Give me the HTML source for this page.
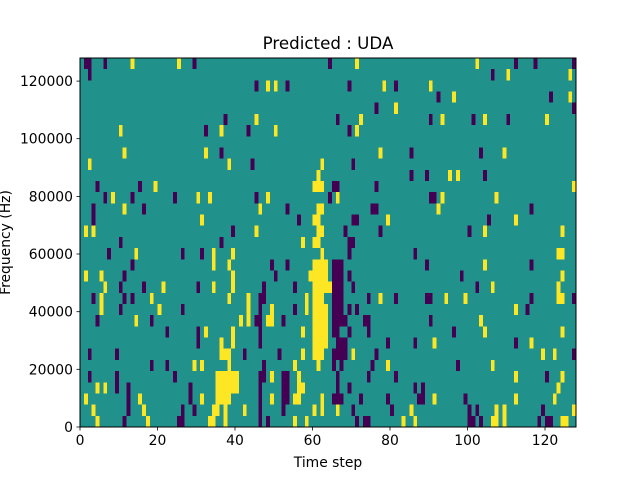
<!DOCTYPE html>
<html><head><meta charset="utf-8"><style>
html,body{margin:0;padding:0;background:#fff;}
svg{display:block;}
text{font-family:"DejaVu Sans","Liberation Sans",sans-serif;font-size:13.9px;fill:#000;}
</style></head><body>
<svg width="640" height="480" viewBox="0 0 640 480" xmlns="http://www.w3.org/2000/svg">
<rect x="0" y="0" width="640" height="480" fill="#fff"/>
<rect x="80" y="58" width="496" height="369" fill="#21918c"/>
<g transform="translate(80,58) scale(3.875,11.1818)" shape-rendering="crispEdges">
<g fill="#440154">
<rect x="1" y="0" width="2" height="1"/><rect x="6" y="0" width="1" height="1"/><rect x="29" y="0" width="1" height="1"/><rect x="64" y="0" width="1" height="1"/><rect x="112" y="0" width="1" height="1"/><rect x="117" y="0" width="1" height="1"/><rect x="127" y="0" width="1" height="1"/>
<rect x="2" y="1" width="1" height="1"/><rect x="106" y="1" width="1" height="1"/>
<rect x="45" y="2" width="1" height="1"/><rect x="53" y="2" width="1" height="1"/><rect x="69" y="2" width="1" height="1"/><rect x="81" y="2" width="1" height="1"/>
<rect x="92" y="3" width="1" height="1"/><rect x="121" y="3" width="1" height="1"/>
<rect x="76" y="4" width="1" height="1"/><rect x="127" y="4" width="1" height="1"/>
<rect x="37" y="5" width="1" height="1"/><rect x="66" y="5" width="1" height="1"/><rect x="90" y="5" width="1" height="1"/><rect x="101" y="5" width="1" height="1"/><rect x="110" y="5" width="1" height="1"/>
<rect x="32" y="6" width="1" height="1"/><rect x="43" y="6" width="1" height="1"/><rect x="69" y="6" width="1" height="1"/>
<rect x="36" y="8" width="1" height="1"/><rect x="85" y="8" width="1" height="1"/><rect x="103" y="8" width="1" height="1"/>
<rect x="44" y="9" width="1" height="1"/><rect x="70" y="9" width="1" height="1"/>
<rect x="85" y="10" width="1" height="1"/><rect x="89" y="10" width="1" height="1"/><rect x="104" y="10" width="1" height="1"/>
<rect x="4" y="11" width="1" height="1"/><rect x="15" y="11" width="1" height="1"/><rect x="65" y="11" width="2" height="1"/><rect x="76" y="11" width="1" height="1"/>
<rect x="6" y="12" width="1" height="1"/><rect x="13" y="12" width="1" height="1"/><rect x="24" y="12" width="1" height="1"/><rect x="45" y="12" width="1" height="1"/><rect x="64" y="12" width="1" height="1"/><rect x="90" y="12" width="2" height="1"/>
<rect x="3" y="13" width="1" height="1"/><rect x="16" y="13" width="1" height="1"/><rect x="53" y="13" width="1" height="1"/><rect x="75" y="13" width="2" height="1"/><rect x="116" y="13" width="1" height="1"/>
<rect x="3" y="14" width="1" height="1"/><rect x="56" y="14" width="1" height="1"/><rect x="70" y="14" width="2" height="1"/><rect x="105" y="14" width="1" height="1"/>
<rect x="39" y="15" width="1" height="1"/><rect x="68" y="15" width="1" height="1"/><rect x="77" y="15" width="1" height="1"/><rect x="100" y="15" width="1" height="1"/>
<rect x="10" y="16" width="1" height="1"/><rect x="36" y="16" width="1" height="1"/><rect x="69" y="16" width="2" height="1"/>
<rect x="7" y="17" width="1" height="1"/><rect x="26" y="17" width="1" height="1"/><rect x="31" y="17" width="1" height="1"/><rect x="69" y="17" width="1" height="1"/><rect x="86" y="17" width="1" height="1"/>
<rect x="13" y="18" width="1" height="1"/><rect x="49" y="18" width="1" height="1"/><rect x="53" y="18" width="1" height="1"/><rect x="65" y="18" width="3" height="1"/><rect x="89" y="18" width="1" height="1"/><rect x="116" y="18" width="1" height="1"/>
<rect x="11" y="19" width="1" height="1"/><rect x="50" y="19" width="1" height="1"/><rect x="65" y="19" width="3" height="1"/><rect x="69" y="19" width="1" height="1"/><rect x="98" y="19" width="1" height="1"/>
<rect x="10" y="20" width="1" height="1"/><rect x="16" y="20" width="1" height="1"/><rect x="30" y="20" width="1" height="1"/><rect x="47" y="20" width="1" height="1"/><rect x="55" y="20" width="1" height="1"/><rect x="65" y="20" width="3" height="1"/><rect x="70" y="20" width="1" height="1"/><rect x="102" y="20" width="1" height="1"/>
<rect x="3" y="21" width="1" height="1"/><rect x="11" y="21" width="1" height="1"/><rect x="13" y="21" width="1" height="1"/><rect x="46" y="21" width="2" height="1"/><rect x="65" y="21" width="3" height="1"/><rect x="74" y="21" width="1" height="1"/><rect x="81" y="21" width="1" height="1"/><rect x="89" y="21" width="2" height="1"/><rect x="116" y="21" width="1" height="1"/><rect x="127" y="21" width="1" height="1"/>
<rect x="10" y="22" width="1" height="1"/><rect x="26" y="22" width="1" height="1"/><rect x="46" y="22" width="1" height="1"/><rect x="55" y="22" width="1" height="1"/><rect x="65" y="22" width="3" height="1"/><rect x="69" y="22" width="1" height="1"/><rect x="71" y="22" width="1" height="1"/><rect x="115" y="22" width="1" height="1"/>
<rect x="4" y="23" width="1" height="1"/><rect x="18" y="23" width="1" height="1"/><rect x="45" y="23" width="2" height="1"/><rect x="52" y="23" width="1" height="1"/><rect x="65" y="23" width="4" height="1"/><rect x="73" y="23" width="2" height="1"/><rect x="90" y="23" width="1" height="1"/>
<rect x="22" y="24" width="1" height="1"/><rect x="30" y="24" width="1" height="1"/><rect x="46" y="24" width="1" height="1"/><rect x="65" y="24" width="2" height="1"/><rect x="69" y="24" width="1" height="1"/><rect x="74" y="24" width="1" height="1"/><rect x="96" y="24" width="1" height="1"/>
<rect x="30" y="25" width="1" height="1"/><rect x="46" y="25" width="1" height="1"/><rect x="66" y="25" width="3" height="1"/><rect x="79" y="25" width="1" height="1"/><rect x="86" y="25" width="1" height="1"/><rect x="112" y="25" width="1" height="1"/>
<rect x="2" y="26" width="1" height="1"/><rect x="9" y="26" width="1" height="1"/><rect x="42" y="26" width="1" height="1"/><rect x="51" y="26" width="1" height="1"/><rect x="65" y="26" width="4" height="1"/><rect x="76" y="26" width="1" height="1"/><rect x="127" y="26" width="1" height="1"/>
<rect x="18" y="27" width="1" height="1"/><rect x="22" y="27" width="1" height="1"/><rect x="47" y="27" width="1" height="1"/><rect x="65" y="27" width="1" height="1"/><rect x="67" y="27" width="1" height="1"/><rect x="75" y="27" width="1" height="1"/><rect x="97" y="27" width="1" height="1"/>
<rect x="2" y="28" width="1" height="1"/><rect x="9" y="28" width="1" height="1"/><rect x="24" y="28" width="1" height="1"/><rect x="46" y="28" width="2" height="1"/><rect x="52" y="28" width="2" height="1"/><rect x="66" y="28" width="1" height="1"/><rect x="74" y="28" width="1" height="1"/><rect x="81" y="28" width="1" height="1"/><rect x="120" y="28" width="1" height="1"/>
<rect x="9" y="29" width="1" height="1"/><rect x="12" y="29" width="1" height="1"/><rect x="28" y="29" width="1" height="1"/><rect x="46" y="29" width="1" height="1"/><rect x="52" y="29" width="2" height="1"/><rect x="66" y="29" width="1" height="1"/><rect x="69" y="29" width="1" height="1"/><rect x="86" y="29" width="1" height="1"/><rect x="88" y="29" width="1" height="1"/>
<rect x="12" y="30" width="1" height="1"/><rect x="28" y="30" width="1" height="1"/><rect x="46" y="30" width="1" height="1"/><rect x="52" y="30" width="2" height="1"/><rect x="65" y="30" width="3" height="1"/><rect x="72" y="30" width="1" height="1"/><rect x="79" y="30" width="1" height="1"/><rect x="87" y="30" width="2" height="1"/><rect x="99" y="30" width="1" height="1"/>
<rect x="12" y="31" width="1" height="1"/><rect x="26" y="31" width="1" height="1"/><rect x="29" y="31" width="1" height="1"/><rect x="46" y="31" width="1" height="1"/><rect x="52" y="31" width="1" height="1"/><rect x="70" y="31" width="1" height="1"/><rect x="80" y="31" width="1" height="1"/><rect x="100" y="31" width="1" height="1"/><rect x="102" y="31" width="1" height="1"/><rect x="119" y="31" width="1" height="1"/>
<rect x="11" y="32" width="1" height="1"/><rect x="25" y="32" width="2" height="1"/><rect x="46" y="32" width="1" height="1"/><rect x="48" y="32" width="1" height="1"/><rect x="71" y="32" width="1" height="1"/><rect x="73" y="32" width="2" height="1"/><rect x="100" y="32" width="2" height="1"/><rect x="103" y="32" width="1" height="1"/><rect x="118" y="32" width="1" height="1"/><rect x="120" y="32" width="2" height="1"/>
</g>
<g fill="#fde725">
<rect x="13" y="0" width="1" height="1"/><rect x="25" y="0" width="1" height="1"/><rect x="71" y="0" width="1" height="1"/><rect x="102" y="0" width="1" height="1"/>
<rect x="110" y="1" width="1" height="1"/><rect x="126" y="1" width="1" height="1"/>
<rect x="48" y="2" width="1" height="1"/><rect x="50" y="2" width="1" height="1"/><rect x="78" y="2" width="1" height="1"/><rect x="90" y="2" width="1" height="1"/>
<rect x="96" y="3" width="1" height="1"/><rect x="126" y="3" width="1" height="1"/>
<rect x="81" y="4" width="1" height="1"/>
<rect x="45" y="5" width="1" height="1"/><rect x="72" y="5" width="1" height="1"/><rect x="93" y="5" width="1" height="1"/><rect x="104" y="5" width="1" height="1"/><rect x="120" y="5" width="1" height="1"/>
<rect x="10" y="6" width="1" height="1"/><rect x="36" y="6" width="1" height="1"/><rect x="50" y="6" width="1" height="1"/><rect x="71" y="6" width="1" height="1"/>
<rect x="11" y="8" width="1" height="1"/><rect x="32" y="8" width="1" height="1"/><rect x="77" y="8" width="1" height="1"/><rect x="109" y="8" width="1" height="1"/>
<rect x="2" y="9" width="1" height="1"/><rect x="38" y="9" width="1" height="1"/><rect x="62" y="9" width="1" height="1"/>
<rect x="61" y="10" width="1" height="1"/><rect x="95" y="10" width="1" height="1"/><rect x="97" y="10" width="1" height="1"/>
<rect x="19" y="11" width="1" height="1"/><rect x="60" y="11" width="3" height="1"/><rect x="127" y="11" width="1" height="1"/>
<rect x="8" y="12" width="1" height="1"/><rect x="30" y="12" width="1" height="1"/><rect x="33" y="12" width="1" height="1"/><rect x="48" y="12" width="1" height="1"/><rect x="66" y="12" width="1" height="1"/><rect x="93" y="12" width="1" height="1"/><rect x="107" y="12" width="1" height="1"/>
<rect x="11" y="13" width="1" height="1"/><rect x="46" y="13" width="1" height="1"/><rect x="61" y="13" width="2" height="1"/><rect x="92" y="13" width="1" height="1"/>
<rect x="31" y="14" width="1" height="1"/><rect x="60" y="14" width="2" height="1"/><rect x="79" y="14" width="1" height="1"/><rect x="112" y="14" width="1" height="1"/>
<rect x="1" y="15" width="1" height="1"/><rect x="3" y="15" width="1" height="1"/><rect x="45" y="15" width="1" height="1"/><rect x="61" y="15" width="2" height="1"/><rect x="104" y="15" width="1" height="1"/><rect x="124" y="15" width="1" height="1"/>
<rect x="57" y="16" width="1" height="1"/><rect x="60" y="16" width="2" height="1"/>
<rect x="14" y="17" width="1" height="1"/><rect x="34" y="17" width="1" height="1"/><rect x="39" y="17" width="1" height="1"/><rect x="62" y="17" width="1" height="1"/><rect x="123" y="17" width="2" height="1"/>
<rect x="34" y="18" width="1" height="1"/><rect x="38" y="18" width="1" height="1"/><rect x="60" y="18" width="4" height="1"/><rect x="104" y="18" width="1" height="1"/>
<rect x="1" y="19" width="1" height="1"/><rect x="5" y="19" width="1" height="1"/><rect x="39" y="19" width="1" height="1"/><rect x="59" y="19" width="5" height="1"/><rect x="124" y="19" width="1" height="1"/>
<rect x="6" y="20" width="1" height="1"/><rect x="21" y="20" width="1" height="1"/><rect x="34" y="20" width="1" height="1"/><rect x="39" y="20" width="1" height="1"/><rect x="60" y="20" width="5" height="1"/><rect x="106" y="20" width="1" height="1"/><rect x="123" y="20" width="1" height="1"/>
<rect x="5" y="21" width="1" height="1"/><rect x="18" y="21" width="1" height="1"/><rect x="38" y="21" width="1" height="1"/><rect x="43" y="21" width="1" height="1"/><rect x="58" y="21" width="1" height="1"/><rect x="60" y="21" width="3" height="1"/><rect x="77" y="21" width="1" height="1"/><rect x="94" y="21" width="1" height="1"/><rect x="99" y="21" width="1" height="1"/><rect x="123" y="21" width="2" height="1"/>
<rect x="5" y="22" width="1" height="1"/><rect x="20" y="22" width="1" height="1"/><rect x="43" y="22" width="1" height="1"/><rect x="49" y="22" width="1" height="1"/><rect x="58" y="22" width="1" height="1"/><rect x="60" y="22" width="4" height="1"/><rect x="112" y="22" width="1" height="1"/>
<rect x="14" y="23" width="1" height="1"/><rect x="41" y="23" width="1" height="1"/><rect x="43" y="23" width="1" height="1"/><rect x="48" y="23" width="2" height="1"/><rect x="60" y="23" width="4" height="1"/><rect x="103" y="23" width="1" height="1"/>
<rect x="32" y="24" width="1" height="1"/><rect x="39" y="24" width="1" height="1"/><rect x="57" y="24" width="1" height="1"/><rect x="60" y="24" width="4" height="1"/><rect x="104" y="24" width="1" height="1"/><rect x="124" y="24" width="1" height="1"/>
<rect x="36" y="25" width="1" height="1"/><rect x="39" y="25" width="1" height="1"/><rect x="60" y="25" width="4" height="1"/><rect x="91" y="25" width="1" height="1"/><rect x="116" y="25" width="1" height="1"/>
<rect x="36" y="26" width="3" height="1"/><rect x="57" y="26" width="1" height="1"/><rect x="60" y="26" width="3" height="1"/><rect x="70" y="26" width="1" height="1"/><rect x="119" y="26" width="1" height="1"/><rect x="122" y="26" width="1" height="1"/>
<rect x="29" y="27" width="1" height="1"/><rect x="31" y="27" width="1" height="1"/><rect x="38" y="27" width="1" height="1"/><rect x="55" y="27" width="1" height="1"/><rect x="61" y="27" width="1" height="1"/><rect x="79" y="27" width="1" height="1"/><rect x="106" y="27" width="1" height="1"/>
<rect x="35" y="28" width="6" height="1"/><rect x="49" y="28" width="1" height="1"/><rect x="56" y="28" width="1" height="1"/><rect x="112" y="28" width="1" height="1"/><rect x="124" y="28" width="1" height="1"/>
<rect x="4" y="29" width="1" height="1"/><rect x="6" y="29" width="1" height="1"/><rect x="35" y="29" width="6" height="1"/><rect x="56" y="29" width="2" height="1"/><rect x="123" y="29" width="1" height="1"/>
<rect x="1" y="30" width="1" height="1"/><rect x="15" y="30" width="1" height="1"/><rect x="31" y="30" width="1" height="1"/><rect x="35" y="30" width="4" height="1"/><rect x="49" y="30" width="1" height="1"/><rect x="55" y="30" width="2" height="1"/><rect x="62" y="30" width="1" height="1"/><rect x="91" y="30" width="1" height="1"/><rect x="112" y="30" width="1" height="1"/><rect x="122" y="30" width="1" height="1"/>
<rect x="3" y="31" width="1" height="1"/><rect x="16" y="31" width="1" height="1"/><rect x="34" y="31" width="2" height="1"/><rect x="37" y="31" width="1" height="1"/><rect x="42" y="31" width="1" height="1"/><rect x="60" y="31" width="1" height="1"/><rect x="62" y="31" width="1" height="1"/><rect x="66" y="31" width="1" height="1"/><rect x="85" y="31" width="1" height="1"/><rect x="107" y="31" width="1" height="1"/><rect x="109" y="31" width="1" height="1"/><rect x="127" y="31" width="1" height="1"/>
<rect x="4" y="32" width="1" height="1"/><rect x="17" y="32" width="1" height="1"/><rect x="33" y="32" width="2" height="1"/><rect x="37" y="32" width="1" height="1"/><rect x="55" y="32" width="1" height="1"/><rect x="58" y="32" width="1" height="1"/><rect x="83" y="32" width="1" height="1"/><rect x="86" y="32" width="1" height="1"/><rect x="106" y="32" width="2" height="1"/><rect x="109" y="32" width="1" height="1"/><rect x="124" y="32" width="2" height="1"/>
</g>
</g>
<rect x="80" y="58" width="496" height="369" fill="none" stroke="#000" stroke-width="1"/>
<g stroke="#000" stroke-width="0.8">
<line x1="80" y1="427" x2="80" y2="430.5"/><line x1="157.5" y1="427" x2="157.5" y2="430.5"/><line x1="235" y1="427" x2="235" y2="430.5"/><line x1="312.5" y1="427" x2="312.5" y2="430.5"/><line x1="390" y1="427" x2="390" y2="430.5"/><line x1="467.5" y1="427" x2="467.5" y2="430.5"/><line x1="545" y1="427" x2="545" y2="430.5"/>
<line x1="76.5" y1="427" x2="80" y2="427"/><line x1="76.5" y1="369.3" x2="80" y2="369.3"/><line x1="76.5" y1="311.7" x2="80" y2="311.7"/><line x1="76.5" y1="254" x2="80" y2="254"/><line x1="76.5" y1="196.4" x2="80" y2="196.4"/><line x1="76.5" y1="138.7" x2="80" y2="138.7"/><line x1="76.5" y1="81.1" x2="80" y2="81.1"/>
</g>
<g text-anchor="middle">
<text x="80" y="445">0</text><text x="157.5" y="445">20</text><text x="235" y="445">40</text><text x="312.5" y="445">60</text><text x="390" y="445">80</text><text x="467.5" y="445">100</text><text x="545" y="445">120</text>
</g>
<g text-anchor="end">
<text x="73" y="432">0</text><text x="73" y="374.3">20000</text><text x="73" y="316.7">40000</text><text x="73" y="259">60000</text><text x="73" y="201.4">80000</text><text x="73" y="143.7">100000</text><text x="73" y="86.1">120000</text>
</g>
<text x="328" y="467" text-anchor="middle">Time step</text>
<text transform="translate(10,242.5) rotate(-90)" text-anchor="middle">Frequency (Hz)</text>
<text x="328" y="49" text-anchor="middle" style="font-size:16.7px">Predicted : UDA</text>
</svg>
</body></html>
